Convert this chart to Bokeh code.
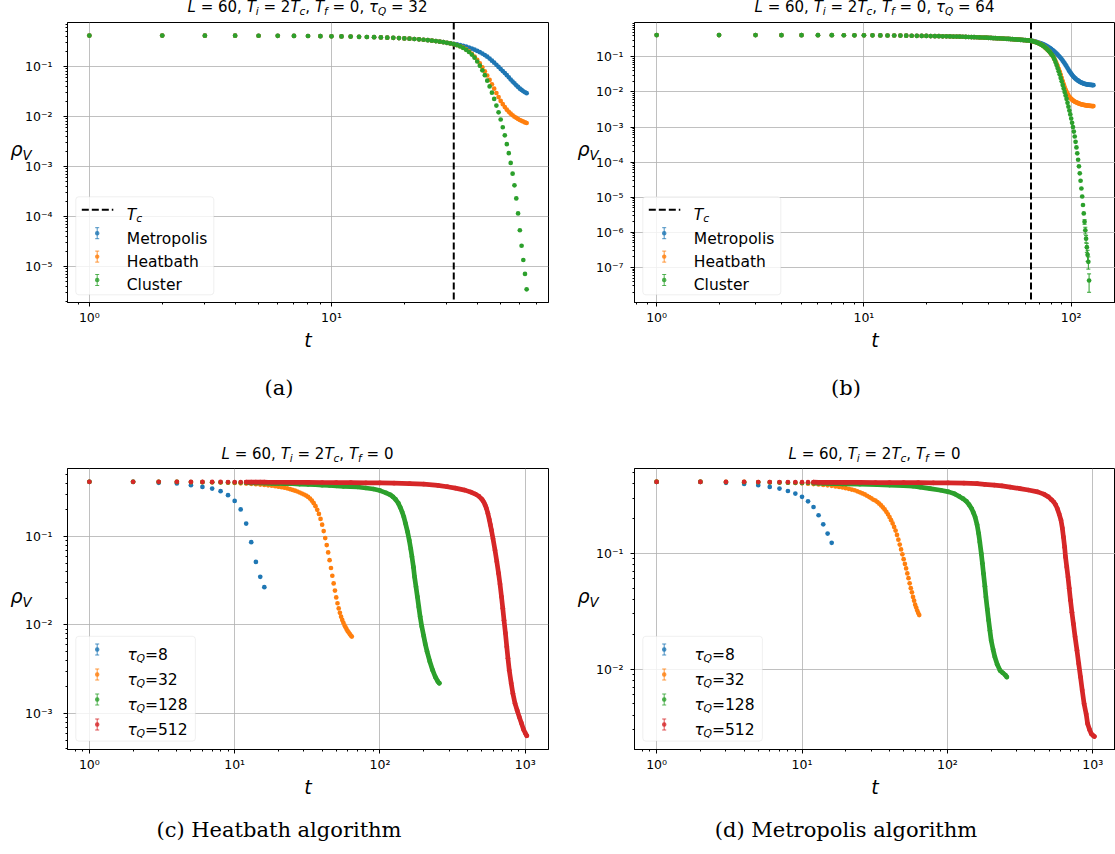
from bokeh.plotting import figure
from bokeh.layouts import column, row
from bokeh.models import (Range1d, FixedTicker, CustomJSTickFormatter, Span, Label, Div,
                          BoxAnnotation, Arrow, TeeHead, Whisker, ColumnDataSource)
from bokeh.embed import file_html
from bokeh.resources import INLINE

# ---------------------------------------------------------------- data
# (a) L = 60, tau_Q = 32: vortex density after each sweep t = 1 .. 64
TAU_A = 32
T_A = list(range(1, 65))
EARLY_A = [0.415, 0.415, 0.414, 0.413, 0.412, 0.411, 0.409, 0.407, 0.405, 0.402,
           0.399, 0.396, 0.393, 0.389, 0.386, 0.382, 0.378, 0.374, 0.370, 0.365,
           0.360, 0.355, 0.350, 0.343, 0.336, 0.329, 0.322, 0.314, 0.306, 0.298,
           0.290]
METRO_A = EARLY_A + [0.285, 0.277, 0.268, 0.259, 0.249, 0.239, 0.228, 0.217, 0.205, 0.193,
                     0.181, 0.169, 0.157, 0.144, 0.131, 0.119, 0.108, 0.098, 0.089, 0.081,
                     0.074, 0.067, 0.061, 0.055, 0.050, 0.046, 0.042, 0.039, 0.036, 0.034,
                     0.032, 0.0305, 0.0293]
HEAT_A = EARLY_A + [0.280, 0.268, 0.254, 0.238, 0.220, 0.200, 0.180, 0.158, 0.136, 0.115,
                    0.096, 0.080, 0.066, 0.054, 0.044, 0.036, 0.0295, 0.0245, 0.0205, 0.0176,
                    0.0154, 0.0137, 0.0124, 0.0114, 0.0106, 0.0099, 0.0094, 0.0089, 0.0085, 0.0082,
                    0.0079, 0.0076, 0.0074]
CLUSTER_A = EARLY_A + [0.280, 0.267, 0.252, 0.235, 0.216, 0.195, 0.173, 0.150, 0.126, 0.104,
                       0.084, 0.067, 0.052, 0.040, 0.030, 0.0225, 0.0165, 0.0121, 0.0087, 0.0061,
                       0.0042, 0.0028, 0.00185, 0.00118, 0.00072, 0.00042, 0.00023, 0.000115, 5.3e-5, 2.6e-5,
                       1.35e-5, 7.1e-6, 3.5e-6]

# (b) L = 60, tau_Q = 64: t = 1 .. 128 (cluster density vanishes after t = 122)
TAU_B = 64
T_B = list(range(1, 129))
T_B_CLUSTER = list(range(1, 123))
EARLY_B = [0.415, 0.415, 0.415, 0.414, 0.414, 0.413, 0.412, 0.411, 0.410, 0.409,
           0.408, 0.407, 0.405, 0.404, 0.402, 0.400, 0.398, 0.396, 0.394, 0.392,
           0.390, 0.388, 0.386, 0.384, 0.382, 0.380, 0.378, 0.376, 0.374, 0.372,
           0.369, 0.367, 0.365, 0.362, 0.360, 0.357, 0.355, 0.352, 0.350, 0.347,
           0.345, 0.342, 0.340, 0.337, 0.335, 0.332, 0.330, 0.327, 0.325, 0.322,
           0.320, 0.318, 0.315, 0.313, 0.310, 0.308, 0.305, 0.303, 0.300, 0.297,
           0.294, 0.292, 0.289, 0.286]
METRO_B = EARLY_B + [0.284, 0.279, 0.272, 0.266, 0.259, 0.251, 0.244, 0.237, 0.229, 0.221,
                     0.213, 0.204, 0.195, 0.186, 0.177, 0.168, 0.158, 0.150, 0.141, 0.132,
                     0.123, 0.115, 0.107, 0.100, 0.0923, 0.0851, 0.0776, 0.0708, 0.0646, 0.0589,
                     0.0531, 0.0479, 0.0432, 0.0389, 0.0359, 0.0331, 0.0305, 0.0282, 0.0266, 0.0251,
                     0.0238, 0.0226, 0.0217, 0.0209, 0.0202, 0.0195, 0.0189, 0.0184, 0.0180, 0.0176,
                     0.0173, 0.0170, 0.0168, 0.0166, 0.0164, 0.0162, 0.0161, 0.0160, 0.0159, 0.0158,
                     0.0158, 0.0157, 0.0157, 0.0156]
HEAT_B = EARLY_B + [0.279, 0.272, 0.265, 0.257, 0.248, 0.240, 0.229, 0.219, 0.207, 0.195,
                    0.182, 0.170, 0.157, 0.145, 0.133, 0.122, 0.110, 0.100, 0.0871, 0.0759,
                    0.0646, 0.0550, 0.0457, 0.0380, 0.0309, 0.0251, 0.0204, 0.0166, 0.0138, 0.0117,
                    0.0101, 0.00891, 0.00794, 0.00724, 0.00673, 0.00631, 0.00600, 0.00573, 0.00550, 0.00532,
                    0.00516, 0.00501, 0.00489, 0.00478, 0.00467, 0.00457, 0.00450, 0.00444, 0.00438, 0.00432,
                    0.00427, 0.00423, 0.00419, 0.00415, 0.00411, 0.00407, 0.00406, 0.00404, 0.00402, 0.00400,
                    0.00398, 0.00396, 0.00394, 0.00394]
CLUSTER_B = EARLY_B + [0.279, 0.272, 0.264, 0.256, 0.247, 0.238, 0.228, 0.218, 0.207, 0.195,
                       0.183, 0.171, 0.158, 0.146, 0.134, 0.122, 0.111, 0.100, 0.0851, 0.0708,
                       0.0589, 0.0479, 0.0389, 0.0316, 0.0251, 0.0200, 0.0158, 0.0126, 0.0100, 0.00794,
                       0.00631, 0.00490, 0.00380, 0.00295, 0.00229, 0.00174, 0.00132, 0.00100, 0.000741, 0.000537,
                       0.000380, 0.000263, 0.000178, 0.000117, 7.59e-5, 4.79e-5, 2.95e-5, 1.78e-5, 1.05e-5, 6.03e-6,
                       3.47e-6, 2.00e-6, 1.15e-6, 6.61e-7, 3.80e-7, 2.29e-7, 1.45e-7, 4.27e-8]
T_B_ERR = [116, 117, 118, 119, 120, 121, 122]
CLUSTER_B_ERR = [3.0e-7, 2.5e-7, 1.6e-7, 1.1e-7, 8.0e-8, 5.5e-8, 2.3e-8]

# (c) heatbath and (d) metropolis for several quench times
T_8 = list(range(1, 17))
HEAT_8 = [0.414, 0.414, 0.404, 0.397, 0.380, 0.363, 0.348, 0.325, 0.293, 0.252,
          0.202, 0.140, 0.0863, 0.0516, 0.035, 0.0267]
METRO_8 = [0.413, 0.413, 0.406, 0.397, 0.387, 0.374, 0.362, 0.345, 0.328, 0.307,
           0.281, 0.251, 0.213, 0.178, 0.148, 0.123]

T_HEAT_128 = list(range(1, 21)) + [22, 25, 28, 32, 36, 40, 45, 50, 56, 63,
                                   70, 80, 90, 100, 110, 118, 123, 128, 134, 138,
                                   142, 146, 150, 155, 159, 163, 166, 170, 173, 177,
                                   181, 185, 189, 194, 200, 205, 211, 220, 230, 240,
                                   250, 256]
HEAT_128 = [0.414, 0.414, 0.413, 0.413, 0.412, 0.411, 0.410, 0.409, 0.408, 0.407,
            0.406, 0.405, 0.404, 0.403, 0.402, 0.401, 0.400, 0.399, 0.398, 0.397,
            0.396, 0.394, 0.391, 0.388, 0.384, 0.380, 0.377, 0.373, 0.369, 0.366,
            0.362, 0.353, 0.344, 0.330, 0.311, 0.295, 0.280, 0.262, 0.236, 0.213,
            0.190, 0.166, 0.140, 0.112, 0.0908, 0.072, 0.059, 0.045, 0.035, 0.027,
            0.0208, 0.016, 0.0124, 0.0096, 0.0075, 0.0061, 0.0050, 0.0039, 0.0031, 0.0026,
            0.0023, 0.0022]

T_HEAT_512 = list(range(1, 21)) + [25, 32, 40, 50, 63, 80, 100, 125, 160, 200,
                                   250, 290, 330, 383, 420, 454, 480, 500, 510, 520,
                                   530, 540, 553, 565, 575, 585, 600, 619, 637, 655,
                                   670, 686, 700, 714, 730, 746, 760, 776, 800, 822,
                                   850, 880, 910, 940, 973, 1000, 1024]
HEAT_512 = [0.414, 0.414, 0.414, 0.414, 0.413, 0.413, 0.413, 0.413, 0.412, 0.412,
            0.412, 0.412, 0.411, 0.411, 0.411, 0.411, 0.410, 0.410, 0.410, 0.410,
            0.409, 0.408, 0.407, 0.406, 0.405, 0.404, 0.403, 0.400, 0.396, 0.390,
            0.378, 0.365, 0.352, 0.334, 0.318, 0.301, 0.284, 0.266, 0.255, 0.242,
            0.226, 0.208, 0.182, 0.156, 0.136, 0.118, 0.094, 0.070, 0.052, 0.0382,
            0.029, 0.0208, 0.0155, 0.0113, 0.0081, 0.00566, 0.0042, 0.00308, 0.0022, 0.00168,
            0.0013, 0.00108, 0.00091, 0.00078, 0.00066, 0.0006, 0.00056]

T_METRO_128 = list(range(1, 21)) + [25, 33, 40, 50, 58, 65, 76, 90, 102, 112,
                                    120, 128, 135, 141, 147, 151, 155, 160, 164, 167,
                                    171, 174, 177, 181, 184, 188, 192, 196, 200, 206,
                                    212, 220, 230, 240, 250, 256]
METRO_128 = [0.413, 0.413, 0.412, 0.411, 0.410, 0.409, 0.408, 0.407, 0.406, 0.405,
             0.405, 0.404, 0.403, 0.402, 0.401, 0.400, 0.400, 0.399, 0.398, 0.397,
             0.395, 0.392, 0.388, 0.383, 0.379, 0.372, 0.362, 0.350, 0.339, 0.326,
             0.311, 0.296, 0.281, 0.263, 0.242, 0.224, 0.206, 0.176, 0.148, 0.125,
             0.0993, 0.082, 0.0668, 0.052, 0.0419, 0.033, 0.0264, 0.0215, 0.0177, 0.0148,
             0.0127, 0.011, 0.00975, 0.0093, 0.0089, 0.00855]

T_METRO_512 = list(range(1, 21)) + [25, 32, 40, 50, 63, 80, 101, 130, 160, 180,
                                    210, 237, 270, 315, 360, 417, 460, 495, 520, 539,
                                    555, 570, 587, 604, 617, 628, 640, 649, 662, 675,
                                    688, 702, 718, 735, 755, 778, 800, 823, 845, 871,
                                    900, 921, 950, 975, 1000, 1024]
METRO_512 = [0.413, 0.413, 0.413, 0.413, 0.412, 0.412, 0.412, 0.412, 0.411, 0.411,
             0.411, 0.411, 0.410, 0.410, 0.410, 0.410, 0.410, 0.409, 0.409, 0.409,
             0.409, 0.408, 0.408, 0.407, 0.407, 0.406, 0.405, 0.403, 0.399, 0.394,
             0.388, 0.382, 0.373, 0.362, 0.352, 0.339, 0.324, 0.307, 0.290, 0.277,
             0.262, 0.243, 0.218, 0.193, 0.165, 0.138, 0.113, 0.0929, 0.076, 0.0624,
             0.050, 0.0393, 0.031, 0.0247, 0.019, 0.0145, 0.0111, 0.00853, 0.0066, 0.00502,
             0.0041, 0.00337, 0.0030, 0.00277, 0.00268, 0.00262]

ALGORITHMS = ["Metropolis", "Heatbath", "Cluster"]
QUENCH_LABELS = ["8", "32", "128", "512"]
CAPTIONS = ["(a)", "(b)", "(c) Heatbath algorithm", "(d) Metropolis algorithm"]

# ---------------------------------------------------------------- style
BLUE, ORANGE, GREEN, RED = "#1f77b4", "#ff7f0e", "#2ca02c", "#d62728"
FONT = "DejaVu Sans"
SERIF = "DejaVu Serif"
DOT = 4.7          # marker diameter in px
BAND_FROM = 12     # sweeps from which densely sampled curves are drawn as a stroke

SUP_JS = """
const sup = {"-": "\u207b", "0": "\u2070", "1": "\u00b9", "2": "\u00b2", "3": "\u00b3",
             "4": "\u2074", "5": "\u2075", "6": "\u2076", "7": "\u2077", "8": "\u2078", "9": "\u2079"};
const e = Math.round(Math.log10(tick));
return "10" + String(e).split("").map((c) => sup[c]).join("");
"""

# approximate DejaVu Sans advance widths (em) used to lay out mixed-size canvas text
W_EM = {" ": 0.318, ",": 0.318, "=": 0.838, "L": 0.557, "T": 0.611, "Q": 0.787,
        "V": 0.684, "i": 0.278, "c": 0.550, "f": 0.352, "\u03c4": 0.57, "\u03c1": 0.635}
for d in "0123456789":
    W_EM[d] = 0.636


def width_of(s, size):
    return sum(W_EM.get(ch, 0.6) for ch in s) * size


def rich_text(p, pieces, x, y, size, sub_scale=0.7, sub_drop=0.21):
    """Canvas text run inside a frame; style 'n' upright, 'i' italic, 's' italic subscript."""
    cx = x
    for txt, st in pieces:
        fs = size * sub_scale if st == "s" else size
        p.add_layout(Label(
            x=cx, y=y - size * sub_drop if st == "s" else y,
            x_units="screen", y_units="screen", text=txt,
            text_font=FONT, text_font_size=f"{fs:.1f}px",
            text_font_style="normal" if st == "n" else "italic",
            text_baseline="alphabetic", text_align="left", text_color="black"))
        cx += width_of(txt, fs)


# ---- html text placed around the frames (titles, y labels, captions)
def sub(s):
    return f'<span style="font-size:70%;font-style:italic;position:relative;top:0.3em">{s}</span>'


def it(s):
    return f'<span style="font-style:italic">{s}</span>'


def html_text(html, left, top, width, line_h, font, size, align):
    inner = (f'<div style="font-family:\'{font}\';font-size:{size}px;line-height:{line_h}px;'
             f'white-space:nowrap;text-align:{align};width:{width}px;color:black;margin:0;padding:0">'
             f'{html}</div>')
    return Div(text=inner, width=width, height=line_h, margin=0,
               styles={"position": "absolute", "left": f"{left}px", "top": f"{top}px",
                       "z-index": "5", "margin": "0px", "padding": "0px"})


def title_html(tau=None):
    s = f"{it('L')} = 60, {it('T')}{sub('i')} = 2{it('T')}{sub('c')}, {it('T')}{sub('f')} = 0"
    if tau is not None:
        s += f", {it('&tau;')}{sub('Q')} = {tau}"
    return s


def make_panel(width, height, borders, x_range, y_range, x_decades, y_decades, y_standoff):
    bl, br, bt, bb = borders
    p = figure(width=width, height=height, x_axis_type="log", y_axis_type="log",
               x_range=Range1d(*x_range), y_range=Range1d(*y_range), title=None,
               output_backend="svg", toolbar_location=None,
               min_border_left=bl, min_border_right=br, min_border_top=bt, min_border_bottom=bb,
               background_fill_color="white", border_fill_color="white")
    p.outline_line_color = "black"
    p.outline_line_width = 1
    for axis, grid, decs in ((p.xaxis[0], p.xgrid[0], x_decades), (p.yaxis[0], p.ygrid[0], y_decades)):
        majors = [10.0 ** k for k in decs]
        minors = [m * 10.0 ** k for k in range(decs[0] - 1, decs[-1] + 1) for m in range(2, 10)]
        axis.ticker = FixedTicker(ticks=majors, minor_ticks=minors)
        axis.formatter = CustomJSTickFormatter(code=SUP_JS)
        axis.axis_line_color = "black"
        axis.axis_line_width = 1
        axis.major_tick_in = 0
        axis.major_tick_out = 4
        axis.minor_tick_in = 0
        axis.minor_tick_out = 2
        axis.major_tick_line_color = "black"
        axis.minor_tick_line_color = "black"
        axis.major_label_text_font = FONT
        axis.major_label_text_font_size = "12.5px"
        axis.major_label_text_color = "black"
        grid.ticker = FixedTicker(ticks=majors)
        grid.grid_line_color = "#b0b0b0"
        grid.grid_line_width = 1
        grid.grid_line_alpha = 0.8
    p.xaxis.major_label_standoff = 3
    p.yaxis.major_label_standoff = y_standoff
    p.xaxis.axis_label = "t"
    p.xaxis.axis_label_text_font = FONT
    p.xaxis.axis_label_text_font_style = "italic"
    p.xaxis.axis_label_text_font_size = "19px"
    p.xaxis.axis_label_text_color = "black"
    p.xaxis.axis_label_standoff = 1
    return p


def draw_series(p, t, rho, color, band=False):
    if band:
        tb = [a for a in t if a >= BAND_FROM]
        rb = [r for a, r in zip(t, rho) if a >= BAND_FROM]
        p.line(tb, rb, line_color=color, line_width=DOT, line_cap="round", line_join="round")
    p.scatter(t, rho, marker="circle", size=DOT, fill_color=color, line_color=None)


def errorbar_glyph(p, gx, yc, color):
    p.add_layout(Arrow(x_start=gx, y_start=yc - 5.5, x_end=gx, y_end=yc + 5.5,
                       start_units="screen", end_units="screen",
                       line_color=color, line_width=1, line_alpha=0.8,
                       start=TeeHead(size=4, line_color=color, line_width=1, line_alpha=0.8),
                       end=TeeHead(size=4, line_color=color, line_width=1, line_alpha=0.8)))
    p.add_layout(BoxAnnotation(left=gx - 2.2, right=gx + 2.2, bottom=yc - 2.2, top=yc + 2.2,
                               left_units="screen", right_units="screen",
                               bottom_units="screen", top_units="screen",
                               fill_color=color, fill_alpha=0.8, line_color=None,
                               border_radius=2))


def legend_frame(p, left, right, bottom, top):
    p.add_layout(BoxAnnotation(left=left, right=right, bottom=bottom, top=top,
                               left_units="screen", right_units="screen",
                               bottom_units="screen", top_units="screen",
                               fill_color="white", fill_alpha=0.8,
                               line_color="#cccccc", line_width=1, border_radius=3))


def algorithm_legend(p):
    legend_frame(p, 8.3, 146.3, 7.7, 105.7)
    rows = [92.7, 69.3, 45.9, 22.5]
    p.add_layout(Arrow(x_start=14.3, y_start=rows[0], x_end=45.8, y_end=rows[0],
                       start_units="screen", end_units="screen", end=None,
                       line_color="black", line_width=2, line_dash="7 3"))
    rich_text(p, [("T", "i"), ("c", "s")], 59.3, rows[0] - 5.3, 15.5)
    for name, color, yc in zip(ALGORITHMS, [BLUE, ORANGE, GREEN], rows[1:]):
        errorbar_glyph(p, 29.7, yc, color)
        p.add_layout(Label(x=59.3, y=yc - 5.3, x_units="screen", y_units="screen", text=name,
                           text_font=FONT, text_font_size="15.5px", text_color="black",
                           text_baseline="alphabetic"))


def quench_legend(p):
    legend_frame(p, 8.3, 127.9, 8.4, 113.2)
    rows = [100, 75, 50, 25]
    for lab, color, yc in zip(QUENCH_LABELS, [BLUE, ORANGE, GREEN, RED], rows):
        errorbar_glyph(p, 29.7, yc, color)
        rich_text(p, [("\u03c4", "i"), ("Q", "s"), ("=" + lab, "n")], 60.1, yc - 5.3, 15.5)


def tc_line(p, tau):
    p.add_layout(Span(location=tau, dimension="height", line_color="black",
                      line_width=2, line_dash="7 3", level="underlay"))


# ---------------------------------------------------------------- (a)
pa = make_panel(557, 430, (67, 9, 22, 128), (0.8123, 78.79), (1.905e-6, 0.7586),
                [0, 1], [-5, -4, -3, -2, -1], 11)
tc_line(pa, TAU_A)
draw_series(pa, T_A, METRO_A, BLUE)
draw_series(pa, T_A, HEAT_A, ORANGE)
draw_series(pa, T_A, CLUSTER_A, GREEN)
algorithm_legend(pa)

# ---------------------------------------------------------------- (b)
pb = make_panel(558, 430, (77, 0, 22, 128), (0.782, 163.6), (1.007e-8, 0.9484),
                [0, 1, 2], [-7, -6, -5, -4, -3, -2, -1], 7)
tc_line(pb, TAU_B)
draw_series(pb, T_B, METRO_B, BLUE)
draw_series(pb, T_B, HEAT_B, ORANGE)
draw_series(pb, T_B_CLUSTER, CLUSTER_B, GREEN)
err_rho = [CLUSTER_B[t - 1] for t in T_B_ERR]
err_src = ColumnDataSource(dict(t=T_B_ERR,
                                lo=[r - e for r, e in zip(err_rho, CLUSTER_B_ERR)],
                                hi=[r + e for r, e in zip(err_rho, CLUSTER_B_ERR)]))
pb.add_layout(Whisker(source=err_src, base="t", lower="lo", upper="hi", dimension="height",
                      line_color=GREEN, line_width=1,
                      upper_head=TeeHead(size=4, line_color=GREEN, line_width=1),
                      lower_head=TeeHead(size=4, line_color=GREEN, line_width=1)))
algorithm_legend(pb)

# ---------------------------------------------------------------- (c)
pc = make_panel(557, 424, (67, 9, 38, 105), (0.7071, 1445.0), (3.917e-4, 0.5861),
                [0, 1, 2, 3], [-3, -2, -1], 11)
draw_series(pc, T_8, HEAT_8, BLUE)
draw_series(pc, T_A, HEAT_A, ORANGE)
draw_series(pc, T_HEAT_128, HEAT_128, GREEN, band=True)
draw_series(pc, T_HEAT_512, HEAT_512, RED, band=True)
quench_legend(pc)

# ---------------------------------------------------------------- (d)
pd_ = make_panel(558, 424, (77, 0, 38, 105), (0.7047, 1432.0), (2.023e-3, 0.5395),
                 [0, 1, 2, 3], [-2, -1], 7)
draw_series(pd_, T_8, METRO_8, BLUE)
draw_series(pd_, T_A, METRO_A, ORANGE)
draw_series(pd_, T_METRO_128, METRO_128, GREEN, band=True)
draw_series(pd_, T_METRO_512, METRO_512, RED, band=True)
quench_legend(pd_)

# ---------------------------------------------------------------- surrounding text
# frame geometry on the page: (left, top, height) of each plotting area
FRAMES = [(67, 22, 280), (634, 22, 280), (67, 468, 281), (634, 468, 281)]
TITLE_BASE = [13, 13, 459.5, 459.5]
CAPTION_MID = [388.3, 388.3, 830, 830]
TITLES = [title_html(TAU_A), title_html(TAU_B), title_html(), title_html()]

texts = []
for (fl, ft, fh), ttl, tb, cap, cm in zip(FRAMES, TITLES, TITLE_BASE, CAPTIONS, CAPTION_MID):
    cx = fl + 240.5
    texts.append(html_text(ttl, cx - 200, tb - 14, 400, 17, FONT, 15, "center"))
    rho_base = ft + fh / 2 - 6
    texts.append(html_text(f"{it('&rho;')}{sub('V')}", fl - 56.5, rho_base - 17.6, 40, 22,
                           FONT, 19, "left"))
    texts.append(html_text(cap, fl + 212 - 200, cm - 13, 400, 26, SERIF, 21, "center"))

layout = column(row(pa, pb), row(pc, pd_), *texts)
open("out.html", "w").write(file_html(layout, INLINE))
